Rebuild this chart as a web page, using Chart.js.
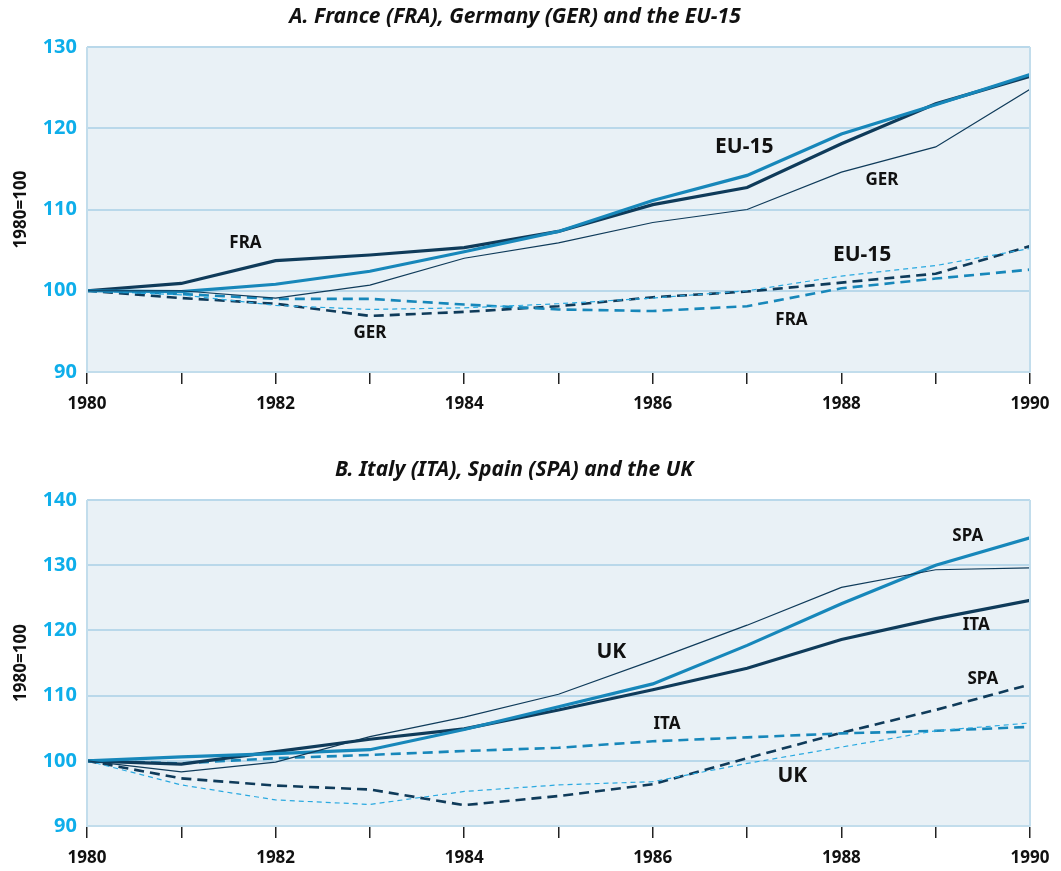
<!DOCTYPE html>
<html>
<head>
<meta charset="utf-8">
<script src="https://cdn.jsdelivr.net/npm/chart.js@4.4.0/dist/chart.umd.min.js"></script>
<style>
  body { margin: 0; background: #fff; }
  .panel { position: absolute; left: 0; width: 1061px; }
  #boxA { top: 0; height: 430px; }
  #boxB { top: 430px; height: 441px; }
</style>
</head>
<body>
<div class="panel" id="boxA"><canvas id="chartA"></canvas></div>
<div class="panel" id="boxB"><canvas id="chartB"></canvas></div>
<script>
'use strict';

////////////////////// DATA //////////////////////
const years = [1980, 1981, 1982, 1983, 1984, 1985, 1986, 1987, 1988, 1989, 1990];

// Panel A: France, Germany, EU-15
const fraSolid  = [100, 100.9, 103.7, 104.4, 105.3, 107.3, 110.6, 112.7, 118.1, 123.0, 126.4];
const eu15Solid = [100, 99.9, 100.8, 102.4, 104.8, 107.3, 111.1, 114.2, 119.3, 122.9, 126.6];
const gerSolid  = [100, 100.0, 99.1, 100.7, 104.0, 105.9, 108.4, 110.0, 114.6, 117.7, 124.8];
const gerDash   = [100, 99.1, 98.4, 96.9, 97.4, 98.1, 99.2, 99.9, 101.0, 102.1, 105.5];
const fraDash   = [100, 99.6, 99.0, 99.0, 98.3, 97.7, 97.5, 98.1, 100.3, 101.5, 102.6];
const eu15Dash  = [100, 99.5, 98.2, 97.7, 97.9, 98.4, 99.1, 100.0, 101.8, 103.1, 105.2];

// Panel B: Italy, Spain, UK
const itaSolid = [100, 99.5, 101.4, 103.3, 104.9, 107.8, 110.9, 114.2, 118.6, 121.8, 124.6];
const spaSolid = [100, 100.6, 101.1, 101.7, 104.8, 108.3, 111.8, 117.7, 124.1, 130.0, 134.2];
const ukSolid  = [100, 98.3, 99.8, 103.7, 106.7, 110.2, 115.4, 120.8, 126.6, 129.3, 129.6];
const itaDash  = [100, 99.6, 100.4, 100.9, 101.5, 102.0, 103.0, 103.6, 104.2, 104.6, 105.2];
const spaDash  = [100, 97.3, 96.2, 95.6, 93.2, 94.6, 96.4, 100.4, 104.3, 107.8, 111.7];
const ukDash   = [100, 96.3, 94.0, 93.3, 95.3, 96.3, 96.8, 99.6, 102.1, 104.6, 105.8];

const yTicksA = [90, 100, 110, 120, 130];
const yTicksB = [90, 100, 110, 120, 130, 140];
const xLabelYears = [1980, 1982, 1984, 1986, 1988, 1990];

const titleA = 'A. France (FRA), Germany (GER) and the EU-15';
const titleB = 'B. Italy (ITA), Spain (SPA) and the UK';
////////////////////////////////////////////////////

const NAVY = '#0f3b5a';
const MID = '#1787ba';
const LIGHT = '#2aa9e0';
const CYAN = '#0eaeea';
const FONT = "'Noto Sans', sans-serif";

function pts(vals) {
    return vals.map((v, i) => ({ x: years[i], y: v }));
}

function serie(label, vals, color, width, dash) {
    return {
        label: label,
        data: pts(vals),
        borderColor: color,
        borderWidth: width,
        borderDash: dash || [],
        pointRadius: 0,
        tension: 0,
        fill: false
    };
}

// background, frame, title and line labels
const decor = {
    id: 'decor',
    beforeDraw(chart, args, o) {
        const a = chart.chartArea, c = chart.ctx;
        c.save();
        c.fillStyle = '#e9f1f6';
        c.fillRect(a.left, a.top, a.right - a.left, a.bottom - a.top);
        c.restore();
    },
    afterDatasetsDraw(chart, args, o) {
        const a = chart.chartArea, c = chart.ctx;
        const sx = chart.scales.x, sy = chart.scales.y;
        c.save();
        c.strokeStyle = '#c2ddec';
        c.lineWidth = 2;
        c.beginPath();
        c.moveTo(a.right, a.top);
        c.lineTo(a.right, a.bottom);
        c.moveTo(a.left, a.top);
        c.lineTo(a.left, a.bottom);
        c.stroke();
        c.fillStyle = '#111';
        c.textAlign = 'center';
        c.textBaseline = 'middle';
        o.labels.forEach(l => {
            c.font = 'bold ' + l.size + 'px ' + FONT;
            c.fillText(l.text, sx.getPixelForValue(l.x), sy.getPixelForValue(l.y));
        });
        c.font = 'italic bold 21px ' + FONT;
        c.fillText(o.title, o.titleX, o.titleY);
        c.restore();
    }
};

function makeChart(id, datasets, yMin, yMax, yTicks, pad, xHeight, deco) {
    const ctx = document.getElementById(id).getContext('2d');
    return new Chart(ctx, {
        type: 'line',
        data: { datasets: datasets },
        options: {
            responsive: true,
            maintainAspectRatio: false,
            animation: false,
            layout: { padding: pad },
            plugins: {
                legend: { display: false },
                tooltip: { enabled: false },
                decor: deco
            },
            scales: {
                x: {
                    type: 'linear',
                    min: 1980,
                    max: 1990,
                    afterFit: s => { s.height = xHeight; },
                    afterBuildTicks: s => { s.ticks = years.map(v => ({ value: v })); },
                    grid: {
                        drawOnChartArea: false,
                        drawTicks: true,
                        tickLength: 12,
                        color: '#222',
                        lineWidth: 1.5
                    },
                    border: { display: true, color: '#c2ddec', width: 2 },
                    ticks: {
                        autoSkip: false,
                        maxRotation: 0,
                        padding: 10,
                        color: '#111',
                        font: { family: FONT, size: 17, weight: 'bold' },
                        callback: v => xLabelYears.includes(v) ? String(v) : ''
                    }
                },
                y: {
                    min: yMin,
                    max: yMax,
                    afterFit: s => { s.width = 87; },
                    afterBuildTicks: s => { s.ticks = yTicks.map(v => ({ value: v })); },
                    grid: { color: '#b9d8ea', lineWidth: 2, drawTicks: false },
                    border: { display: false },
                    ticks: {
                        padding: 10,
                        color: CYAN,
                        font: { family: FONT, size: 20, weight: 'bold' }
                    },
                    title: {
                        display: true,
                        text: '1980=100',
                        color: '#111',
                        padding: { top: 11, bottom: 0 },
                        font: { family: FONT, size: 17, weight: 'bold' }
                    }
                }
            }
        },
        plugins: [decor]
    });
}

makeChart('chartA', [
    serie('GER', gerSolid, NAVY, 1.2),
    serie('EU-15', eu15Solid, MID, 3.2),
    serie('FRA', fraSolid, NAVY, 3.2),
    serie('EU-15 (dashed)', eu15Dash, LIGHT, 1.2, [5, 4]),
    serie('FRA (dashed)', fraDash, MID, 2.6, [10, 6]),
    serie('GER (dashed)', gerDash, NAVY, 2.6, [10, 6])
], 90, 130, yTicksA, { top: 47, right: 31, bottom: 0, left: 0 }, 58, {
    title: titleA, titleX: 515, titleY: 17,
    labels: [
        { text: 'FRA', x: 1981.68, y: 105.8, size: 17 },
        { text: 'EU-15', x: 1986.97, y: 117.7, size: 21 },
        { text: 'GER', x: 1988.43, y: 113.6, size: 17 },
        { text: 'EU-15', x: 1988.22, y: 104.4, size: 21 },
        { text: 'FRA', x: 1987.47, y: 96.4, size: 17 },
        { text: 'GER', x: 1983.0, y: 94.8, size: 17 }
    ]
});

makeChart('chartB', [
    serie('UK', ukSolid, NAVY, 1.2),
    serie('SPA', spaSolid, MID, 3.2),
    serie('ITA', itaSolid, NAVY, 3.2),
    serie('UK (dashed)', ukDash, LIGHT, 1.2, [5, 4]),
    serie('ITA (dashed)', itaDash, MID, 2.6, [10, 6]),
    serie('SPA (dashed)', spaDash, NAVY, 2.6, [10, 6])
], 90, 140, yTicksB, { top: 70, right: 31, bottom: 0, left: 0 }, 45, {
    title: titleB, titleX: 514, titleY: 40,
    labels: [
        { text: 'SPA', x: 1989.34, y: 134.5, size: 17 },
        { text: 'ITA', x: 1989.43, y: 120.8, size: 17 },
        { text: 'UK', x: 1985.56, y: 116.7, size: 21 },
        { text: 'SPA', x: 1989.5, y: 112.5, size: 17 },
        { text: 'ITA', x: 1986.15, y: 105.6, size: 17 },
        { text: 'UK', x: 1987.48, y: 97.7, size: 21 }
    ]
});
</script>
</body>
</html>
